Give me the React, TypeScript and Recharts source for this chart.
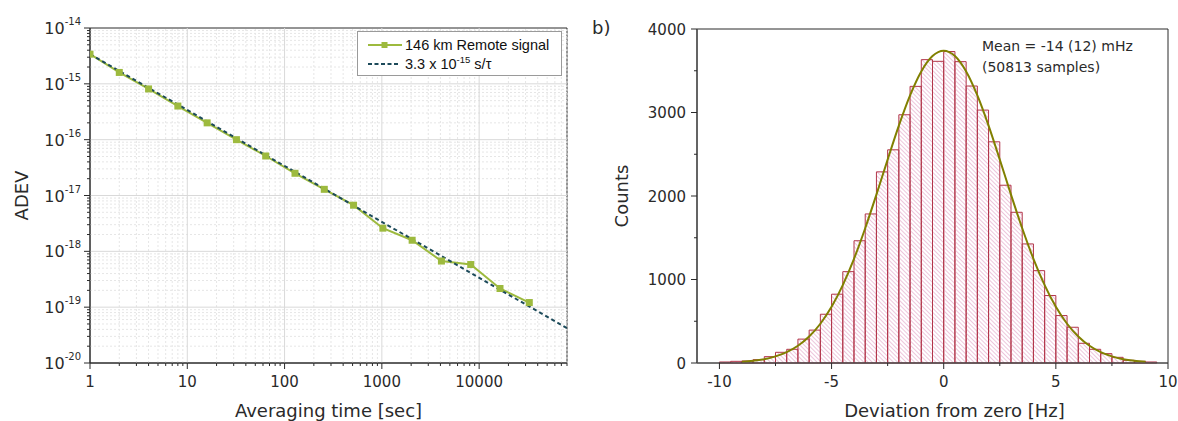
import { ComposedChart, Line, XAxis, YAxis, ReferenceLine, ReferenceArea, Legend, Label } from "recharts";

const AXIS_FONT = "'DejaVu Sans', sans-serif";
const LEGEND_FONT = "'Liberation Sans', Arial, sans-serif";
const GREEN = "#9dba3e";
const TEAL = "#1c4a5a";
const OLIVE = "#818000";
const BAR_EDGE = "#b23448";
const HATCH = "#e8b8d3";
const INK = "#2a2a2a";

// a) ADEV of the remote signal
const tauSec = [1, 2, 4, 8, 16, 32, 64, 128, 256, 512, 1024, 2048, 4096, 8192, 16384, 32768];
const adevRemote = [
  3.4e-15, 1.6e-15, 8.1e-16, 4.0e-16, 2.0e-16, 1.0e-16, 5.1e-17, 2.5e-17,
  1.29e-17, 6.7e-18, 2.6e-18, 1.58e-18, 6.7e-19, 5.8e-19, 2.16e-19, 1.21e-19,
];
const fitTau = [1, 80000];
const fitAdev = [3.4e-15, 4.2e-20];
const tauMajor = [1, 10, 100, 1000, 10000];
const adevMajor = [1e-20, 1e-19, 1e-18, 1e-17, 1e-16, 1e-15, 1e-14];
const minorSteps = [2, 3, 4, 5, 6, 7, 8, 9];
const tauMinor = tauMajor.flatMap((d) => minorSteps.map((m) => m * d)).filter((v) => v <= 80000);
const adevMinor = adevMajor.slice(0, -1).flatMap((d) => minorSteps.map((m) => m * d));
const remoteName = "146 km Remote signal";
const fitName = "3.3 x 10^-15 s/τ";

// b) histogram of the deviation
const BIN_WIDTH = 0.5;
const binCenters = [
  -9.75, -9.25, -8.75, -8.25, -7.75, -7.25, -6.75, -6.25, -5.75, -5.25, -4.75, -4.25, -3.75,
  -3.25, -2.75, -2.25, -1.75, -1.25, -0.75, -0.25, 0.25, 0.75, 1.25, 1.75, 2.25, 2.75,
  3.25, 3.75, 4.25, 4.75, 5.25, 5.75, 6.25, 6.75, 7.25, 7.75, 8.25, 8.75, 9.25,
];
const binCounts = [
  12, 20, 24, 40, 76, 128, 164, 286, 394, 584, 824, 1094, 1464,
  1785, 2289, 2553, 2973, 3313, 3633, 3613, 3730, 3609, 3317, 3029, 2649, 2129,
  1805, 1426, 1106, 808, 568, 428, 236, 164, 112, 68, 32, 20, 12,
];
const fitDev = [
  -9, -8.5, -8, -7.5, -7, -6.5, -6, -5.5, -5, -4.5, -4, -3.5, -3, -2.5, -2, -1.5, -1, -0.5, 0,
  0.5, 1, 1.5, 2, 2.5, 3, 3.5, 4, 4.5, 5, 5.5, 6, 6.5, 7, 7.5, 8, 8.5, 9,
];
const fitCounts = [
  14, 26, 46, 79, 130, 206, 317, 470, 673, 933, 1248, 1614, 2017, 2436, 2843, 3205, 3492, 3676, 3740,
  3676, 3492, 3205, 2843, 2436, 2017, 1614, 1248, 933, 673, 470, 317, 206, 130, 79, 46, 26, 14,
];
const devMajor = [-10, -5, 0, 5, 10];
const devMinor = [-7.5, -2.5, 2.5, 7.5];
const countMajor = [0, 1000, 2000, 3000, 4000];
const countMinor = [500, 1500, 2500, 3500];

const leftRows = Array.from(new Set([...tauSec, ...fitTau]))
  .sort((a, b) => a - b)
  .map((t) => ({
    tau: t,
    adev: tauSec.includes(t) ? adevRemote[tauSec.indexOf(t)] : undefined,
    fit: fitTau.includes(t) ? fitAdev[fitTau.indexOf(t)] : undefined,
  }));
const rightRows = fitDev.map((d, i) => ({ dev: d, fit: fitCounts[i] }));

interface TickProps {
  x?: number;
  y?: number;
  payload?: { value: number };
  majors: number[];
}

const BottomTick = ({ x = 0, y = 0, payload, majors }: TickProps) => {
  const v = payload?.value ?? 0;
  const major = majors.includes(v);
  return (
    <g>
      <line x1={x} y1={y} x2={x} y2={y + (major ? 6 : 3)} stroke={INK} />
      {major && (
        <text x={x} y={y + 24} textAnchor="middle" fontFamily={AXIS_FONT} fontSize={15} fill={INK}>
          {v}
        </text>
      )}
    </g>
  );
};

const LeftTick = ({ x = 0, y = 0, payload, majors }: TickProps) => {
  const v = payload?.value ?? 0;
  const major = majors.includes(v);
  return (
    <g>
      <line x1={x} y1={y} x2={x - (major ? 6 : 3)} y2={y} stroke={INK} />
      {major && (
        <text x={x - 11} y={y + 5.5} textAnchor="end" fontFamily={AXIS_FONT} fontSize={15} fill={INK}>
          {v}
        </text>
      )}
    </g>
  );
};

const PowerTick = ({ x = 0, y = 0, payload, majors }: TickProps) => {
  const v = payload?.value ?? 0;
  const major = majors.includes(v);
  return (
    <g>
      <line x1={x} y1={y} x2={x - (major ? 6 : 3)} y2={y} stroke={INK} />
      {major && (
        <text x={x - 9} y={y + 6} textAnchor="end" fontFamily={AXIS_FONT} fontSize={16} fill={INK}>
          10
          <tspan dy={-9} fontSize={10}>
            {Math.round(Math.log10(v))}
          </tspan>
        </text>
      )}
    </g>
  );
};

const SquareDot = (props: { cx?: number; cy?: number; index?: number; value?: number }) => {
  const { cx, cy, index, value } = props;
  if (cx == null || cy == null || value == null) return <g key={index} />;
  return <rect key={index} x={cx - 3.5} y={cy - 3.5} width={7} height={7} fill={GREEN} />;
};

const withPower = (name: string) => {
  const m = name.match(/^(.*)\^(\S+)(.*)$/);
  if (!m) return name;
  return (
    <>
      {m[1]}
      <span style={{ fontSize: 9.5, position: "relative", top: -6 }}>{m[2]}</span>
      {m[3]}
    </>
  );
};

const LegendBox = ({ payload }: { payload?: any[] }) => (
  <div
    style={{
      width: 205,
      boxSizing: "border-box",
      border: "1px solid #9a9a9a",
      background: "#fff",
      padding: "4px 0 2px 10px",
      fontFamily: LEGEND_FONT,
      fontSize: 14.5,
      color: "#111",
    }}
  >
    {(payload ?? [])
      .filter((e) => e.type !== "none")
      .map((e, i) => (
        <div key={i} style={{ display: "flex", alignItems: "center", height: 18.5 }}>
          <svg width={34} height={10} style={{ marginRight: 3, flex: "none" }}>
            {e.dataKey === "fit" ? (
              <line x1={0} y1={5} x2={30} y2={5} stroke={TEAL} strokeWidth={2} strokeDasharray="4 2.5" />
            ) : (
              <>
                <line x1={0} y1={5} x2={34} y2={5} stroke={GREEN} strokeWidth={2} />
                <rect x={13.5} y={2} width={6} height={6} fill={GREEN} />
              </>
            )}
          </svg>
          <span style={{ whiteSpace: "nowrap" }}>{withPower(String(e.value))}</span>
        </div>
      ))}
  </div>
);

const AdevChart = () => (
  <ComposedChart width={600} height={421} data={leftRows} margin={{ top: 28, right: 33, bottom: 57, left: 89 }}>
    <XAxis
      dataKey="tau"
      type="number"
      scale="log"
      domain={[1, 80000]}
      allowDataOverflow
      ticks={[...tauMajor, ...tauMinor]}
      interval={0}
      height={1}
      tickLine={false}
      tickSize={0}
      tickMargin={0}
      axisLine={{ stroke: INK }}
      tick={(p: any) => <BottomTick {...p} majors={tauMajor} />}
    >
      <Label value="Averaging time [sec]" position="bottom" offset={40} fontFamily={AXIS_FONT} fontSize={18} fill={INK} />
    </XAxis>
    <YAxis
      type="number"
      scale="log"
      domain={[1e-20, 1e-14]}
      allowDataOverflow
      ticks={[...adevMajor, ...adevMinor]}
      interval={0}
      width={1}
      tickLine={false}
      tickSize={0}
      tickMargin={0}
      axisLine={{ stroke: INK }}
      tick={(p: any) => <PowerTick {...p} majors={adevMajor} />}
    >
      <Label value="ADEV" angle={-90} position="left" offset={67} textAnchor="middle" fontFamily={AXIS_FONT} fontSize={18} fill={INK} />
    </YAxis>
    {tauMinor.map((t) => (
      <ReferenceLine key={`xm${t}`} x={t} stroke="#e6e6e6" strokeDasharray="2 2" />
    ))}
    {adevMinor.map((a) => (
      <ReferenceLine key={`ym${a}`} y={a} stroke="#e6e6e6" strokeDasharray="2 2" />
    ))}
    {tauMajor.slice(1).map((t) => (
      <ReferenceLine key={`xM${t}`} x={t} stroke="#d9d9d9" />
    ))}
    {adevMajor.slice(1, -1).map((a) => (
      <ReferenceLine key={`yM${a}`} y={a} stroke="#d9d9d9" />
    ))}
    <Line dataKey="adev" name={remoteName} stroke={GREEN} strokeWidth={2} dot={false} activeDot={false} connectNulls isAnimationActive={false} />
    <Line dataKey="fit" name={fitName} stroke={TEAL} strokeWidth={2} strokeDasharray="4 3" dot={false} activeDot={false} connectNulls isAnimationActive={false} />
    <Line dataKey="adev" stroke="none" legendType="none" dot={(p: any) => <SquareDot {...p} key={p.index} />} activeDot={false} isAnimationActive={false} />
    <ReferenceArea x1={1} x2={80000} y1={1e-20} y2={1e-14} fill="none" stroke={INK} ifOverflow="visible" />
    <Legend
      layout="vertical"
      align="center"
      verticalAlign="middle"
      wrapperStyle={{ left: 357, top: 31, width: 205 }}
      content={(p: any) => <LegendBox payload={p.payload} />}
    />
  </ComposedChart>
);

const HistogramChart = () => (
  <ComposedChart width={598} height={421} data={rightRows} margin={{ top: 29, right: 10, bottom: 57, left: 116 }}>
    <defs>
      <pattern id="hatch" width={3} height={3} patternUnits="userSpaceOnUse" patternTransform="rotate(-45)">
        <line x1={1.5} y1={0} x2={1.5} y2={3} stroke={HATCH} strokeWidth={0.8} />
      </pattern>
    </defs>
    <XAxis
      dataKey="dev"
      type="number"
      domain={[-11, 10]}
      allowDataOverflow
      ticks={[...devMajor, ...devMinor]}
      interval={0}
      height={1}
      tickLine={false}
      tickSize={0}
      tickMargin={0}
      axisLine={{ stroke: "#555" }}
      tick={(p: any) => <BottomTick {...p} majors={devMajor} />}
    >
      <Label value="Deviation from zero [Hz]" position="bottom" offset={40} dx={22} fontFamily={AXIS_FONT} fontSize={18} fill={INK} />
    </XAxis>
    <YAxis
      type="number"
      domain={[0, 4000]}
      allowDataOverflow
      ticks={[...countMajor, ...countMinor]}
      interval={0}
      width={1}
      tickLine={false}
      tickSize={0}
      tickMargin={0}
      axisLine={{ stroke: "#555", strokeWidth: 1.5 }}
      tick={(p: any) => <LeftTick {...p} majors={countMajor} />}
    >
      <Label value="Counts" angle={-90} position="left" offset={74} textAnchor="middle" fontFamily={AXIS_FONT} fontSize={18} fill={INK} />
    </YAxis>
    {binCenters.map((c, i) => (
      <ReferenceArea
        key={c}
        x1={c - BIN_WIDTH / 2}
        x2={c + BIN_WIDTH / 2}
        y1={0}
        y2={binCounts[i]}
        fill="url(#hatch)"
        fillOpacity={1}
        stroke={BAR_EDGE}
        strokeWidth={1}
        ifOverflow="visible"
      />
    ))}
    <Line dataKey="fit" type="monotone" stroke={OLIVE} strokeWidth={2} dot={false} activeDot={false} isAnimationActive={false} />
    <ReferenceArea x1={-11} x2={10} y1={0} y2={4000} fill="none" stroke={INK} ifOverflow="visible" />
    <text x={12} y={34} fontFamily={AXIS_FONT} fontSize={18} fill={INK}>
      b)
    </text>
    <text x={402} y={51} fontFamily={AXIS_FONT} fontSize={14} fill={INK}>
      Mean = -14 (12) mHz
    </text>
    <text x={402} y={72} fontFamily={AXIS_FONT} fontSize={14} fill={INK}>
      (50813 samples)
    </text>
  </ComposedChart>
);

export default function App() {
  return (
    <div style={{ position: "absolute", left: 0, top: 0, width: 1178, height: 421, background: "#fff" }}>
      <div style={{ position: "absolute", left: 0, top: 0 }}>
        <AdevChart />
      </div>
      <div style={{ position: "absolute", left: 580, top: 0 }}>
        <HistogramChart />
      </div>
    </div>
  );
}
